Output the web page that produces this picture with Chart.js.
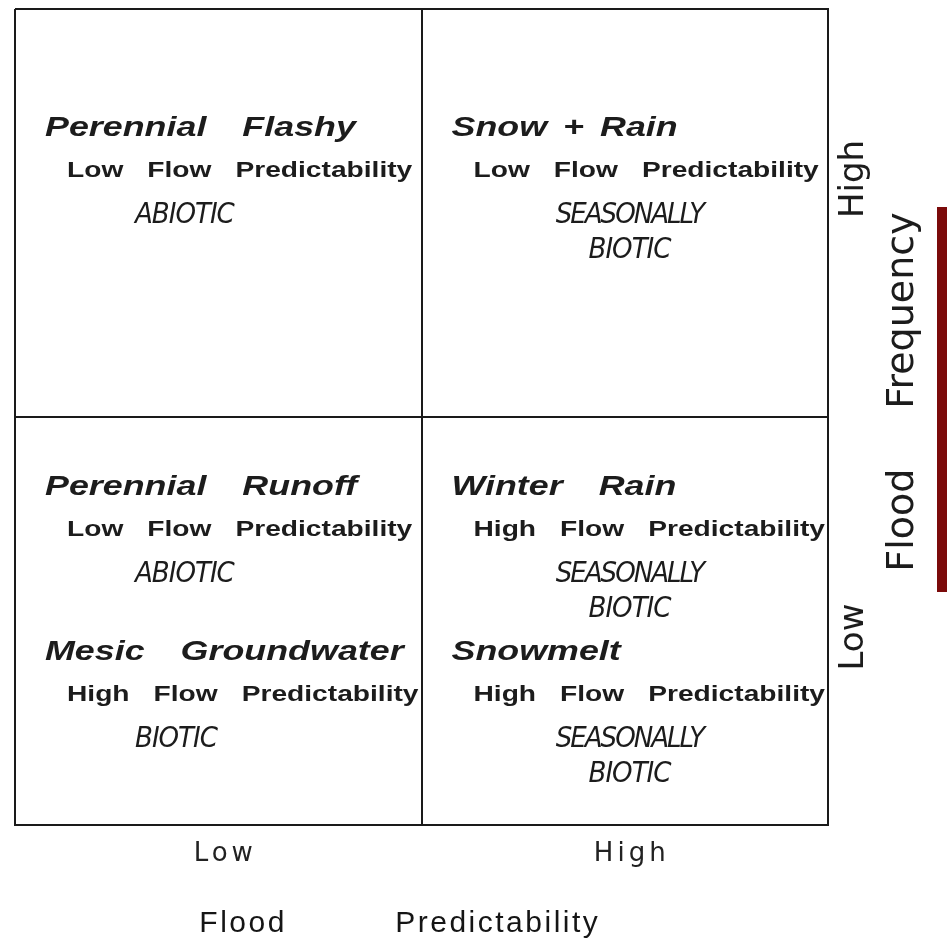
<!DOCTYPE html>
<html>
<head>
<meta charset="utf-8">
<title>Flow regimes by flood predictability and flood frequency</title>
<script src="https://cdn.jsdelivr.net/npm/chart.js@4.4.0/dist/chart.umd.min.js"></script>
<style>
  html, body { margin: 0; padding: 0; background: #fff; }
  canvas { display: block; }
</style>
</head>
<body>
<canvas id="regimeChart" width="947" height="946"></canvas>
<script>
// axis levels (low -> high)
const xTicks = ['Low', 'High'];   // flood predictability
const yTicks = ['Low', 'High'];   // flood frequency
const xTitle = 'Flood Predictability';
const yTitle = 'Flood Frequency';

// flow regimes and the quadrant each one falls in
const regimes = ['Perennial Flashy', 'Snow + Rain', 'Perennial Runoff', 'Mesic Groundwater', 'Winter Rain', 'Snowmelt'];
const regimePredictability = ['Low', 'High', 'Low', 'Low', 'High', 'High'];
const regimeFrequency = ['High', 'High', 'Low', 'Low', 'Low', 'Low'];
const flowPredictability = ['Low', 'Low', 'Low', 'High', 'High', 'High'];
const interaction = ['ABIOTIC', 'SEASONALLY BIOTIC', 'ABIOTIC', 'BIOTIC', 'SEASONALLY BIOTIC', 'SEASONALLY BIOTIC'];

const NB = '\u00a0';
const INK = '#1c1c1c';

// draws words one at a time, stretched sideways like the photocopy
function drawWords(ctx, words, x, y, gap, sx) {
  let cx = x;
  words.forEach((w, k) => {
    ctx.save();
    ctx.translate(cx, y);
    ctx.scale(sx, 1);
    ctx.fillText(w, 0, 0);
    ctx.restore();
    cx += ctx.measureText(w).width * sx;
    if (k < words.length - 1) {
      cx += (w === '+' || words[k + 1] === '+') ? 16 : gap;
    }
  });
}

const quadrantText = {
  id: 'quadrantText',
  beforeDraw(chart) {
    const ctx = chart.ctx;
    ctx.save();
    ctx.fillStyle = '#fff';
    ctx.fillRect(0, 0, chart.width, chart.height);
    ctx.restore();
    // spacing used by the axis title
    ctx.letterSpacing = '2.5px';
  },
  beforeDatasetsDraw(chart) {
    // spacing used by the tick labels (drawn after this hook)
    chart.ctx.letterSpacing = '4px';
  },
  afterDraw(chart) {
    const ctx = chart.ctx;
    const xs = chart.scales.x;
    const ys = chart.scales.y;
    ctx.save();
    ctx.letterSpacing = '0px';
    ctx.fillStyle = INK;
    ctx.textBaseline = 'middle';

    regimes.forEach((name, i) => {
      const col = xTicks.indexOf(regimePredictability[i]);
      const row = yTicks.indexOf(regimeFrequency[i]);
      const left = xs.getPixelForValue(col);
      const top = ys.getPixelForValue(row + 1);

      // how many regimes share this quadrant, and which one this is
      let slot = 0, total = 0;
      regimes.forEach((n, j) => {
        if (regimePredictability[j] === regimePredictability[i] && regimeFrequency[j] === regimeFrequency[i]) {
          if (j < i) slot++;
          total++;
        }
      });
      const y0 = top + (total === 1 ? 119 : (slot === 0 ? 70 : 235));

      ctx.textAlign = 'left';
      ctx.font = 'italic bold 28px "Liberation Sans", Arial, sans-serif';
      drawWords(ctx, name.split(' '), left + 30, y0, 36, 1.28);

      ctx.font = 'bold 22px "Liberation Sans", Arial, sans-serif';
      drawWords(ctx, [flowPredictability[i], 'Flow', 'Predictability'], left + 52, y0 + 43, 24, 1.28);

      ctx.font = 'italic 29px "Liberation Sans Narrow", "DejaVu Sans Condensed", sans-serif';
      const lines = interaction[i].split(' ');
      lines.forEach((ln, k) => {
        ctx.letterSpacing = ln.length > 8 ? '-2px' : '-1px';
        if (lines.length > 1) {
          ctx.textAlign = 'center';
          ctx.fillText(ln, left + 208, y0 + 87 + k * 35);
        } else {
          ctx.textAlign = 'left';
          ctx.fillText(ln, left + 120, y0 + 87);
        }
      });
      ctx.letterSpacing = '0px';
    });

    // right-hand axis: rotated tick labels and title
    ctx.textBaseline = 'alphabetic';
    ctx.textAlign = 'center';
    ctx.font = '34px "DejaVu Sans", sans-serif';
    const yTickShift = [16, -34];
    yTicks.forEach((lbl, k) => {
      ctx.save();
      ctx.translate(863, ys.getPixelForValue(k + 0.5) + yTickShift[k]);
      ctx.rotate(-Math.PI / 2);
      ctx.fillText(lbl, 0, 0);
      ctx.restore();
    });

    ctx.font = '38px "DejaVu Sans", sans-serif';
    ctx.textAlign = 'left';
    const words = yTitle.split(' ');
    const gap = 60;
    const widths = words.map(w => ctx.measureText(w).width);
    const totalLen = widths.reduce((a, b) => a + b, 0) + gap * (words.length - 1);
    ctx.save();
    ctx.translate(913, ys.getPixelForValue(1) - 25);
    ctx.rotate(-Math.PI / 2);
    let pos = -totalLen / 2;
    words.forEach((w, k) => {
      ctx.fillText(w, pos, 0);
      pos += widths[k] + gap;
    });
    ctx.restore();

    // slide accent bar on the right edge
    ctx.fillStyle = '#7b0a0a';
    ctx.fillRect(937, 207, 10, 385);
    ctx.restore();
  }
};

const lineColor = (c) => Number.isInteger(c.tick.value) ? '#1a1a1a' : 'rgba(0,0,0,0)';

new Chart(document.getElementById('regimeChart'), {
  type: 'scatter',
  data: { datasets: [] },
  options: {
    responsive: false,
    animation: false,
    layout: { padding: { left: 15, top: 9, right: 0, bottom: 0 } },
    plugins: { legend: { display: false }, tooltip: { enabled: false } },
    scales: {
      x: {
        type: 'linear',
        position: 'bottom',
        min: 0,
        max: xTicks.length,
        afterFit: (s) => { s.height = 121; },
        ticks: {
          stepSize: 0.5,
          z: 1,
          padding: 14,
          labelOffset: 7,
          maxRotation: 0,
          autoSkip: false,
          color: '#222',
          font: { family: '"DejaVu Sans", sans-serif', size: 26 },
          callback: (v) => {
            const k = v - 0.5;
            return Number.isInteger(k) ? xTicks[k] : '';
          }
        },
        grid: { color: lineColor, lineWidth: 2, drawTicks: false },
        border: { display: true, color: '#1a1a1a', width: 2 },
        title: {
          display: true,
          text: xTitle.split(' ').join(NB.repeat(10)) + NB.repeat(4),
          color: '#151515',
          font: { family: '"Liberation Sans", Arial, sans-serif', size: 30 },
          padding: { top: 0, bottom: 4 }
        }
      },
      y: {
        type: 'linear',
        position: 'right',
        min: 0,
        max: yTicks.length,
        afterFit: (s) => { s.width = 119; },
        ticks: { stepSize: 0.5, display: false },
        grid: { color: lineColor, lineWidth: 2, drawTicks: false },
        border: { display: true, color: '#1a1a1a', width: 2 }
      }
    }
  },
  plugins: [quadrantText]
});
</script>
</body>
</html>
